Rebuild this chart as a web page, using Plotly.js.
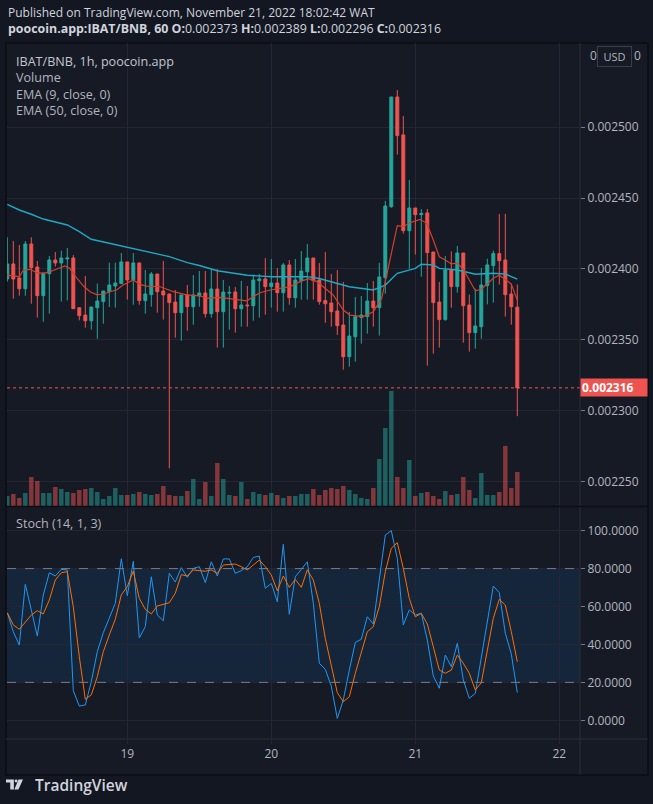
<!DOCTYPE html>
<html><head><meta charset="utf-8">
<script src="https://cdn.plot.ly/plotly-3.0.1.min.js"></script>
<style>html,body{margin:0;padding:0;background:#131722;}#wrap{position:relative;width:653px;height:804px;}#chart{width:653px;height:804px;}
#logo{position:absolute;left:6px;top:779px;width:17px;height:11px;z-index:20;display:block;}</style>
</head><body><div id="wrap"><div id="chart"></div>
<svg id="logo" width="17" height="11" viewBox="0 0 16 9.6" xmlns="http://www.w3.org/2000/svg">
<path d="M0,0 H7.4 V9.6 H4 V2.8 H0 Z" fill="#d1d4dc"/>
<circle cx="9.5" cy="1.4" r="1.4" fill="#d1d4dc"/>
<path d="M11.8,0 H16 L11.7,9.6 H7.8 Z" fill="#d1d4dc"/>
</svg></div>
<script>
// ---------- DATA (IBAT/BNB 1h, first candle Nov 18 04:00) ----------
const firstCandleUTC = [2022, 10, 18, 4];
const opens = [0.0023929,0.0024035,0.0023936,0.0023860,0.0024176,0.0024013,0.0023811,0.0023966,0.0024063,0.0024042,
0.0024070,0.0024077,0.0023726,0.0023674,0.0023634,0.0023726,0.0023769,0.0023839,0.0023879,0.0023896,
0.0024049,0.0023922,0.0024042,0.0023776,0.0023818,0.0023964,0.0023844,0.0023823,0.0023766,0.0023691,
0.0023816,0.0023733,0.0023809,0.0023830,0.0023684,0.0023858,0.0023698,0.0023829,0.0023837,0.0023719,
0.0023745,0.0023740,0.0023917,0.0023929,0.0023875,0.0023900,0.0023832,0.0024028,0.0023797,0.0023917,
0.0023980,0.0024077,0.0023922,0.0023776,0.0023759,0.0023703,0.0023604,0.0023380,0.0023521,0.0023656,
0.0023663,0.0023773,0.0023726,0.0023938,0.0024439,0.0025214,0.0024946,0.0024270,0.0024430,0.0024383,
0.0024395,0.0024119,0.0023766,0.0023642,0.0023992,0.0023875,0.0024112,0.0023745,0.0023550,0.0023592,
0.0023882,0.0024023,0.0024108,0.0024063,0.0023823,0.0023730];
const highs = [0.0024223,0.0024197,0.0024169,0.0024197,0.0024223,0.0024056,0.0023971,0.0024091,0.0024119,0.0024129,
0.0024148,0.0024098,0.0023726,0.0023950,0.0023731,0.0023896,0.0023844,0.0024044,0.0024044,0.0024112,
0.0024049,0.0024112,0.0024042,0.0023992,0.0023978,0.0023964,0.0024056,0.0023823,0.0023851,0.0023816,
0.0023886,0.0023957,0.0023985,0.0023985,0.0023999,0.0023999,0.0023922,0.0023879,0.0023872,0.0023915,
0.0023879,0.0023950,0.0023964,0.0024077,0.0024070,0.0024006,0.0024042,0.0024063,0.0024070,0.0024126,
0.0024176,0.0024077,0.0024042,0.0024119,0.0023964,0.0023992,0.0023908,0.0023696,0.0023802,0.0023809,
0.0023900,0.0023915,0.0024042,0.0024480,0.0025214,0.0025263,0.0025080,0.0024628,0.0024430,0.0024423,
0.0024423,0.0024119,0.0023908,0.0024091,0.0024124,0.0024162,0.0024112,0.0023818,0.0023860,0.0024006,
0.0024072,0.0024129,0.0024388,0.0024388,0.0023896,0.0023890];
const lows = [0.0023910,0.0023790,0.0023811,0.0023811,0.0023754,0.0023656,0.0023627,0.0023684,0.0024016,0.0023769,
0.0023778,0.0023719,0.0023637,0.0023585,0.0023571,0.0023507,0.0023613,0.0023731,0.0023726,0.0023893,
0.0023783,0.0023747,0.0023747,0.0023684,0.0023733,0.0023691,0.0023642,0.0022592,0.0023514,0.0023493,
0.0023564,0.0023606,0.0023733,0.0023656,0.0023656,0.0023444,0.0023444,0.0023571,0.0023550,0.0023592,
0.0023592,0.0023634,0.0023656,0.0023677,0.0023726,0.0023698,0.0023698,0.0023747,0.0023726,0.0023783,
0.0023783,0.0023783,0.0023747,0.0023620,0.0023592,0.0023533,0.0023288,0.0023310,0.0023345,0.0023472,
0.0023543,0.0023592,0.0023529,0.0023825,0.0024432,0.0024807,0.0024249,0.0024002,0.0024101,0.0023945,
0.0023317,0.0023401,0.0023444,0.0023634,0.0023726,0.0023832,0.0023479,0.0023416,0.0023437,0.0023507,
0.0023750,0.0023762,0.0023889,0.0023663,0.0023606,0.0022960];
const closes = [0.0024035,0.0023929,0.0023860,0.0024176,0.0024009,0.0023811,0.0023971,0.0024063,0.0024042,0.0024077,
0.0024077,0.0023719,0.0023670,0.0023634,0.0023731,0.0023773,0.0023844,0.0023886,0.0023900,0.0024049,
0.0023922,0.0024042,0.0023776,0.0023823,0.0023964,0.0023839,0.0023816,0.0023762,0.0023691,0.0023816,
0.0023733,0.0023816,0.0023830,0.0023684,0.0023858,0.0023698,0.0023837,0.0023834,0.0023719,0.0023745,
0.0023740,0.0023922,0.0023929,0.0023875,0.0023900,0.0023832,0.0024028,0.0023797,0.0023922,0.0023985,
0.0024077,0.0023917,0.0023769,0.0023754,0.0023698,0.0023599,0.0023380,0.0023526,0.0023663,0.0023674,
0.0023773,0.0023726,0.0023943,0.0024444,0.0025214,0.0024941,0.0024270,0.0024430,0.0024383,0.0024392,
0.0024115,0.0023762,0.0023642,0.0023992,0.0023875,0.0024112,0.0023740,0.0023550,0.0023597,0.0023886,
0.0024028,0.0024108,0.0024058,0.0023818,0.0023733,0.0023160];
const volumes = [10,12,8,13,29,25,13,13,19,17,
14,13,16,17,18,14,7,10,18,11,
11,12,14,12,11,12,20,11,10,10,
15,27,7,24,10,43,27,11,10,24,
7,14,12,11,13,11,8,10,10,12,
12,17,11,16,18,17,20,16,12,8,
7,18,47,78,115,29,18,46,10,13,
14,10,7,15,11,12,29,16,8,33,
11,11,14,60,18,34];
// EMA lines read at (hour offset from first candle, price)
const emaFastHours = [0,2,2.7,3.8,4.9,6,7.1,8.2,9.6,10.4,11.6,12.7,13.8,14.9,16,17.1,18.2,19.3,21,22.1,23.2,25.5,27.7,29.9,32.1,33.2,35.4,37.7,39.9,41,42.1,43.8,45.4,47.1,48.8,50.2,51.6,53.2,54.3,56,57.1,59.3,61,62.4,63.2,64.1,65,66,67.1,68.8,69.9,71,72,73,74,75,76,77,78,79,80,81,82,83,84,85];
const emaFastValues = [0.0023956,0.0023945,0.0023992,0.0023997,0.0023973,0.0023969,0.0023980,0.0023997,0.0024021,0.0024004,0.0023934,0.0023879,0.0023839,0.0023818,0.0023821,0.0023839,0.0023851,0.0023886,0.0023922,0.0023891,0.0023879,0.0023874,0.0023839,0.0023816,0.0023810,0.0023792,0.0023799,0.0023787,0.0023775,0.0023804,0.0023832,0.0023851,0.0023863,0.0023874,0.0023910,0.0023931,0.0023910,0.0023851,0.0023816,0.0023710,0.0023674,0.0023663,0.0023698,0.0023792,0.0023945,0.0024133,0.0024305,0.0024298,0.0024326,0.0024350,0.0024322,0.0024204,0.0024086,0.0024063,0.0024035,0.0024040,0.0023997,0.0023922,0.0023846,0.0023856,0.0023898,0.0023934,0.0023955,0.0023922,0.0023893,0.0023780];
const emaSlowHours = [0,2,4,6,10,12,14,17,19,21,23,27,30,32,35,40,44,50,52,57,61,63,65,68,69,71,72,75,77,78,81,83,85];
const emaSlowValues = [0.0024456,0.0024416,0.0024386,0.0024352,0.0024310,0.0024263,0.0024209,0.0024181,0.0024162,0.0024146,0.0024122,0.0024087,0.0024044,0.0024024,0.0023987,0.0023955,0.0023945,0.0023945,0.0023932,0.0023874,0.0023851,0.0023886,0.0023969,0.0024004,0.0024033,0.0024028,0.0024004,0.0023992,0.0023973,0.0023962,0.0023969,0.0023964,0.0023927];
const stochK = [56.7,46.7,39.7,71.7,58.2,44.4,66.1,77.8,76.1,79.6,
79.3,15.6,7.5,8.1,20.4,36.2,46.2,53.8,61.7,85.2,
65.7,83.8,43.4,49.4,75.7,55.5,52.5,77.5,72.9,80.5,
75.4,80.1,81.0,72.6,83.6,76.1,85.1,85.1,77.5,78.9,
81.0,85.9,86.6,69.6,72.2,62.5,92.8,55.9,75.7,79.6,
83.6,61.7,30.1,26.9,18.0,1.0,10.7,26.5,41.1,42.7,
54.6,50.8,74.0,97.7,100,85.4,50.3,58.2,55.5,56.4,
42.3,23.4,16.9,34.4,28.3,40.6,21.3,11.6,14.2,33.5,
53.8,70.8,67.3,45.9,35.0,14.6];
const stochD = [56.7,50.3,48.0,52.0,55.5,57.8,56.1,63.4,74.0,77.8,
78.4,59.9,33.5,11.1,13.4,23.0,36.2,45.0,53.3,66.1,
70.5,78.7,64.3,58.5,56.1,60.3,61.3,62.0,67.0,76.8,
76.1,79.3,78.9,78.6,79.3,77.5,81.9,82.3,82.4,81.0,
79.3,81.9,84.5,81.0,76.6,68.3,76.1,70.1,74.3,70.1,
79.3,74.0,61.7,43.2,28.3,14.6,9.8,12.4,24.8,35.3,
46.7,49.4,59.9,78.4,90.7,93.7,80.1,64.3,54.6,56.4,
50.8,38.8,26.5,24.8,26.5,34.4,30.1,24.8,16.0,19.8,
36.2,53.8,63.8,60.8,46.7,30.9];
const stochBands = [20, 80];
const dayTickHours = [20, 44, 68, 92];
const dayTickLabels = ['19', '20', '21', '22'];
const priceTicks = [0.00225,0.0023,0.00235,0.0024,0.00245,0.0025];
const stochTicks = [0,20,40,60,80,100];

// ---------- helpers ----------
const t0 = Date.UTC(...firstCandleUTC);
function hourToDate(h){ return new Date(t0 + h*3600000).toISOString().slice(0,19).replace('T',' '); }
const times = opens.map((_, i) => hourToDate(i));
const W = 653, H = 804, ML = 7, MR = 73, MT = 43, MB = 65;
const PW = W - ML - MR, PH = H - MT - MB;
const px = X => (X - ML) / PW;
const py = Y => (H - MB - Y) / PH;
const UP = '#26a69a', DN = '#ef5350';
const FONT = 'Open Sans, Noto Sans, sans-serif';
const gridC = '#242733';
const n = closes.length;
const last = n - 1;

const traces = [
  { type:'bar', x: times, y: volumes, xaxis:'x', yaxis:'y3', width: 0.75*3600000,
    marker:{ color: closes.map((c,i)=> c >= opens[i] ? 'rgba(38,166,154,0.5)' : 'rgba(239,83,80,0.5)'), line:{width:0} },
    hoverinfo:'skip' },
  { type:'scatter', mode:'lines', x: emaSlowHours.map(hourToDate), y: emaSlowValues, xaxis:'x', yaxis:'y',
    line:{color:'#1fa9c4', width:1.4}, hoverinfo:'skip' },
  { type:'scatter', mode:'lines', x: emaFastHours.map(hourToDate), y: emaFastValues, xaxis:'x', yaxis:'y',
    line:{color:'#d4402b', width:1.2}, hoverinfo:'skip' },
  { type:'candlestick', x: times, open: opens, high: highs, low: lows, close: closes, xaxis:'x', yaxis:'y',
    whiskerwidth: 0,
    increasing:{ line:{color:UP, width:1}, fillcolor:UP },
    decreasing:{ line:{color:DN, width:1}, fillcolor:DN },
    hoverinfo:'skip' },
  { type:'scatter', mode:'lines', x: times, y: stochK, xaxis:'x', yaxis:'y2', line:{color:'#2196f3', width:1}, hoverinfo:'skip' },
  { type:'scatter', mode:'lines', x: times, y: stochD, xaxis:'x', yaxis:'y2', line:{color:'#ff6d00', width:1}, hoverinfo:'skip' }
];

const fmt6 = v => v.toFixed(6);
const ann = (X, Y, text, opt={}) => Object.assign({ xref:'paper', yref:'paper', x: px(X), y: py(Y), text,
  showarrow:false, xanchor:'left', yanchor:'middle', font:{family:FONT, size:12, color:'#b2b5be'} }, opt);

const annotations = [
  ann(6, 12, 'Published on TradingView.com, November 21, 2022 18:02:42 WAT', {font:{family:FONT,size:12,color:'#d1d4dc'}}),
  ann(6, 29, '<b>poocoin.app:IBAT/BNB, 60 O:</b>' + fmt6(opens[last]) + ' <b>H:</b>' + fmt6(highs[last]) +
     ' <b>L:</b>' + fmt6(lows[last]) + ' <b>C:</b>' + fmt6(closes[last]), {font:{family:FONT,size:12.4,color:'#d1d4dc'}}),
  ann(14, 61, 'IBAT/BNB, 1h, poocoin.app', {font:{family:FONT,size:12.6,color:'#c3c6ce'}}),
  ann(14, 77.5, 'Volume', {font:{family:FONT,size:12.6,color:'#b2b5be'}}),
  ann(14, 94, 'EMA (9, close, 0)', {font:{family:FONT,size:12.6,color:'#b2b5be'}}),
  ann(14, 110.5, 'EMA (50, close, 0)', {font:{family:FONT,size:12.6,color:'#b2b5be'}}),
  ann(14, 523, 'Stoch (14, 1, 3)', {font:{family:FONT,size:12.6,color:'#b2b5be'}}),
  { xref:'paper', yref:'y', x: 1, y: closes[last], xanchor:'left', yanchor:'middle', showarrow:false,
    text:'<b>' + fmt6(closes[last]) + '</b>', bgcolor: DN, width: 64, height: 15, borderpad: 1, align:'left',
    font:{family:FONT, size:12, color:'#ffffff'} },
  // partly hidden top price label peeking around the currency button
  ann(588, 55, '0', {font:{family:FONT,size:12,color:'#b2b5be'}}),
  ann(632, 55, '0', {font:{family:FONT,size:12,color:'#b2b5be'}}),
  ann(597, 57, 'USD', {bgcolor:'#161a25', bordercolor:'#3a3e4a', borderwidth:1, borderpad:2, width:29,
    align:'center', font:{family:FONT,size:11,color:'#b2b5be'}}),
  ann(33, 785, 'TradingView', {font:{family:FONT,size:15.5,color:'#d1d4dc', weight:600}})
];

const shapes = [
  // chart frame background
  { type:'rect', xref:'paper', yref:'paper', x0:px(6), x1:px(648), y0:py(775), y1:py(43), fillcolor:'#161a25',
    line:{color:'#0c0e14', width:1.5}, layer:'below' },
  // stoch band
  { type:'rect', xref:'paper', yref:'y2', x0:0, x1:1, y0:stochBands[0], y1:stochBands[1], fillcolor:'rgba(33,150,243,0.1)', line:{width:0}, layer:'below' },
  { type:'line', xref:'paper', yref:'y2', x0:0, x1:1, y0:stochBands[0], y1:stochBands[0], line:{color:'#787b86', width:1, dash:'dash'} },
  { type:'line', xref:'paper', yref:'y2', x0:0, x1:1, y0:stochBands[1], y1:stochBands[1], line:{color:'#787b86', width:1, dash:'dash'} },
  // last price dotted line
  { type:'line', xref:'paper', yref:'y', x0:0, x1:1, y0:closes[last], y1:closes[last], line:{color:DN, width:1, dash:'dot'} },
  // separators
  { type:'line', xref:'paper', yref:'paper', x0:1, x1:1, y0:py(775), y1:py(43), line:{color:'#2a2e39', width:1} },
  { type:'line', xref:'paper', yref:'paper', x0:px(6), x1:px(648), y0:py(506.5), y1:py(506.5), line:{color:'#0c0e14', width:1.5} },
  { type:'line', xref:'paper', yref:'paper', x0:px(6), x1:px(648), y0:py(739), y1:py(739), line:{color:'#2a2e39', width:1} }
];

const layout = {
  width: W, height: H, margin:{l:ML, r:MR, t:MT, b:MB, pad:0},
  paper_bgcolor:'#131722', plot_bgcolor:'rgba(0,0,0,0)',
  showlegend:false, boxgap: 0.3,
  font:{family:FONT, size:12, color:'#b2b5be'},
  xaxis:{ type:'date', anchor:'y2', range:[hourToDate(-0.05), hourToDate(95.45)],
    tickvals: dayTickHours.map(hourToDate), ticktext: dayTickLabels,
    showgrid:true, gridcolor:gridC, gridwidth:1, ticks:'outside', ticklen:4, tickcolor:gridC,
    zeroline:false, showline:false, rangeslider:{visible:false}, fixedrange:true,
    tickfont:{family:FONT, size:12, color:'#b2b5be'} },
  yaxis:{ domain:[0.3348, 1], side:'right', range:[0.0022326, 0.0025595],
    tickvals: priceTicks, ticktext: priceTicks.map(fmt6),
    showgrid:true, gridcolor:gridC, ticks:'outside', ticklen:4, tickcolor:'#787b86',
    zeroline:false, showline:false, tickfont:{family:FONT, size:12, color:'#b2b5be'} },
  yaxis2:{ domain:[0, 0.3333], side:'right', range:[-9.86, 112.47],
    tickvals: stochTicks, ticktext: stochTicks.map(v=>v.toFixed(4)),
    showgrid:true, gridcolor:gridC, ticks:'outside', ticklen:4, tickcolor:'#787b86',
    zeroline:false, showline:false, tickfont:{family:FONT, size:12, color:'#b2b5be'} },
  yaxis3:{ overlaying:'y', domain:[0.3348,1], range:[0, 463], visible:false, showgrid:false },
  annotations, shapes
};

Plotly.newPlot('chart', traces, layout, {displayModeBar:false, staticPlot:true});
</script>
</body></html>
